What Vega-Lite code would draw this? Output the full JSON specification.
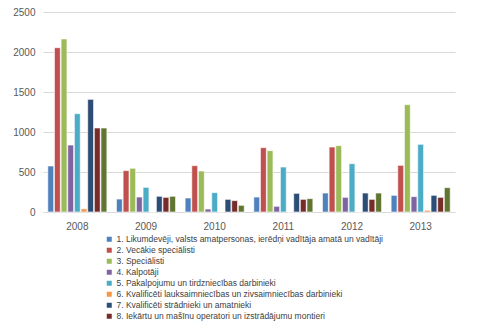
{
  "$schema": "https://vega.github.io/schema/vega-lite/v6.json",
  "width": 412,
  "height": 200,
  "autosize": {"type": "none"},
  "padding": {"left": 43, "top": 12, "right": 26, "bottom": 113},
  "background": "white",
  "config": {
    "view": {"stroke": null},
    "font": "Liberation Sans"
  },
  "datasets": {
    "d": [
      {"year": "2008", "k": "1. Likumdevēji, valsts amatpersonas, ierēdņi vadītāja amatā un vadītāji", "v": 575},
      {"year": "2008", "k": "2. Vecākie speciālisti", "v": 2054},
      {"year": "2008", "k": "3. Speciālisti", "v": 2163},
      {"year": "2008", "k": "4. Kalpotāji", "v": 837},
      {"year": "2008", "k": "5. Pakalpojumu un tirdzniecības darbinieki", "v": 1229},
      {"year": "2008", "k": "6. Kvalificēti lauksaimniecības un zivsaimniecības darbinieki", "v": 40},
      {"year": "2008", "k": "7. Kvalificēti strādnieki un amatnieki", "v": 1408},
      {"year": "2008", "k": "8. Iekārtu un mašīnu operatori un izstrādājumu montieri", "v": 1050},
      {"year": "2008", "k": "9. Vienkāršās profesijas", "v": 1050},
      {"year": "2009", "k": "1. Likumdevēji, valsts amatpersonas, ierēdņi vadītāja amatā un vadītāji", "v": 162},
      {"year": "2009", "k": "2. Vecākie speciālisti", "v": 517},
      {"year": "2009", "k": "3. Speciālisti", "v": 546},
      {"year": "2009", "k": "4. Kalpotāji", "v": 187},
      {"year": "2009", "k": "5. Pakalpojumu un tirdzniecības darbinieki", "v": 308},
      {"year": "2009", "k": "6. Kvalificēti lauksaimniecības un zivsaimniecības darbinieki", "v": 0},
      {"year": "2009", "k": "7. Kvalificēti strādnieki un amatnieki", "v": 196},
      {"year": "2009", "k": "8. Iekārtu un mašīnu operatori un izstrādājumu montieri", "v": 183},
      {"year": "2009", "k": "9. Vienkāršās profesijas", "v": 196},
      {"year": "2010", "k": "1. Likumdevēji, valsts amatpersonas, ierēdņi vadītāja amatā un vadītāji", "v": 175},
      {"year": "2010", "k": "2. Vecākie speciālisti", "v": 579},
      {"year": "2010", "k": "3. Speciālisti", "v": 512},
      {"year": "2010", "k": "4. Kalpotāji", "v": 37},
      {"year": "2010", "k": "5. Pakalpojumu un tirdzniecības darbinieki", "v": 242},
      {"year": "2010", "k": "6. Kvalificēti lauksaimniecības un zivsaimniecības darbinieki", "v": 0},
      {"year": "2010", "k": "7. Kvalificēti strādnieki un amatnieki", "v": 158},
      {"year": "2010", "k": "8. Iekārtu un mašīnu operatori un izstrādājumu montieri", "v": 142},
      {"year": "2010", "k": "9. Vienkāršās profesijas", "v": 83},
      {"year": "2011", "k": "1. Likumdevēji, valsts amatpersonas, ierēdņi vadītāja amatā un vadītāji", "v": 187},
      {"year": "2011", "k": "2. Vecākie speciālisti", "v": 804},
      {"year": "2011", "k": "3. Speciālisti", "v": 767},
      {"year": "2011", "k": "4. Kalpotāji", "v": 71},
      {"year": "2011", "k": "5. Pakalpojumu un tirdzniecības darbinieki", "v": 562},
      {"year": "2011", "k": "6. Kvalificēti lauksaimniecības un zivsaimniecības darbinieki", "v": 0},
      {"year": "2011", "k": "7. Kvalificēti strādnieki un amatnieki", "v": 233},
      {"year": "2011", "k": "8. Iekārtu un mašīnu operatori un izstrādājumu montieri", "v": 158},
      {"year": "2011", "k": "9. Vienkāršās profesijas", "v": 167},
      {"year": "2012", "k": "1. Likumdevēji, valsts amatpersonas, ierēdņi vadītāja amatā un vadītāji", "v": 237},
      {"year": "2012", "k": "2. Vecākie speciālisti", "v": 812},
      {"year": "2012", "k": "3. Speciālisti", "v": 829},
      {"year": "2012", "k": "4. Kalpotāji", "v": 183},
      {"year": "2012", "k": "5. Pakalpojumu un tirdzniecības darbinieki", "v": 604},
      {"year": "2012", "k": "6. Kvalificēti lauksaimniecības un zivsaimniecības darbinieki", "v": 0},
      {"year": "2012", "k": "7. Kvalificēti strādnieki un amatnieki", "v": 237},
      {"year": "2012", "k": "8. Iekārtu un mašīnu operatori un izstrādājumu montieri", "v": 158},
      {"year": "2012", "k": "9. Vienkāršās profesijas", "v": 237},
      {"year": "2013", "k": "1. Likumdevēji, valsts amatpersonas, ierēdņi vadītāja amatā un vadītāji", "v": 208},
      {"year": "2013", "k": "2. Vecākie speciālisti", "v": 583},
      {"year": "2013", "k": "3. Speciālisti", "v": 1342},
      {"year": "2013", "k": "4. Kalpotāji", "v": 192},
      {"year": "2013", "k": "5. Pakalpojumu un tirdzniecības darbinieki", "v": 846},
      {"year": "2013", "k": "6. Kvalificēti lauksaimniecības un zivsaimniecības darbinieki", "v": 21},
      {"year": "2013", "k": "7. Kvalificēti strādnieki un amatnieki", "v": 208},
      {"year": "2013", "k": "8. Iekārtu un mašīnu operatori un izstrādājumu montieri", "v": 183},
      {"year": "2013", "k": "9. Vienkāršās profesijas", "v": 304}
    ]
  },
  "data": {"name": "d"},
  "mark": {"type": "bar", "stroke": "white", "strokeWidth": 0.6},
  "encoding": {
    "x": {
      "field": "year", "type": "nominal", "title": null,
      "scale": {"paddingInner": 0.14, "paddingOuter": 0.07},
      "axis": {"labelAngle": 0, "ticks": false, "domainColor": "#D9D9D9", "labelColor": "#595959", "labelFontSize": 10, "labelPadding": 9}
    },
    "xOffset": {"field": "k", "type": "nominal", "scale": {"paddingInner": 0.12}},
    "y": {
      "field": "v", "type": "quantitative", "title": null,
      "scale": {"domain": [0, 2500]},
      "axis": {"values": [0, 500, 1000, 1500, 2000, 2500], "format": "d", "domain": false, "ticks": false, "gridColor": "#D9D9D9", "labelColor": "#595959", "labelFontSize": 10, "labelPadding": 8}
    },
    "color": {
      "field": "k", "type": "nominal",
      "scale": {"range": ["#4F81BD", "#C0504D", "#9BBB59", "#8064A2", "#4BACC6", "#F79646", "#2C4D75", "#772C2A", "#5F7530"]},
      "legend": {
        "title": null, "orient": "none", "legendX": 62, "legendY": 223,
        "direction": "vertical",
        "values": ["1. Likumdevēji, valsts amatpersonas, ierēdņi vadītāja amatā un vadītāji", "2. Vecākie speciālisti", "3. Speciālisti", "4. Kalpotāji", "5. Pakalpojumu un tirdzniecības darbinieki", "6. Kvalificēti lauksaimniecības un zivsaimniecības darbinieki", "7. Kvalificēti strādnieki un amatnieki", "8. Iekārtu un mašīnu operatori un izstrādājumu montieri"],
        "symbolType": "square", "symbolSize": 25, "symbolStrokeWidth": 0,
        "labelFontSize": 8.5, "labelColor": "#404040", "labelOffset": 3, "rowPadding": 2, "labelLimit": 400
      }
    }
  }
}
